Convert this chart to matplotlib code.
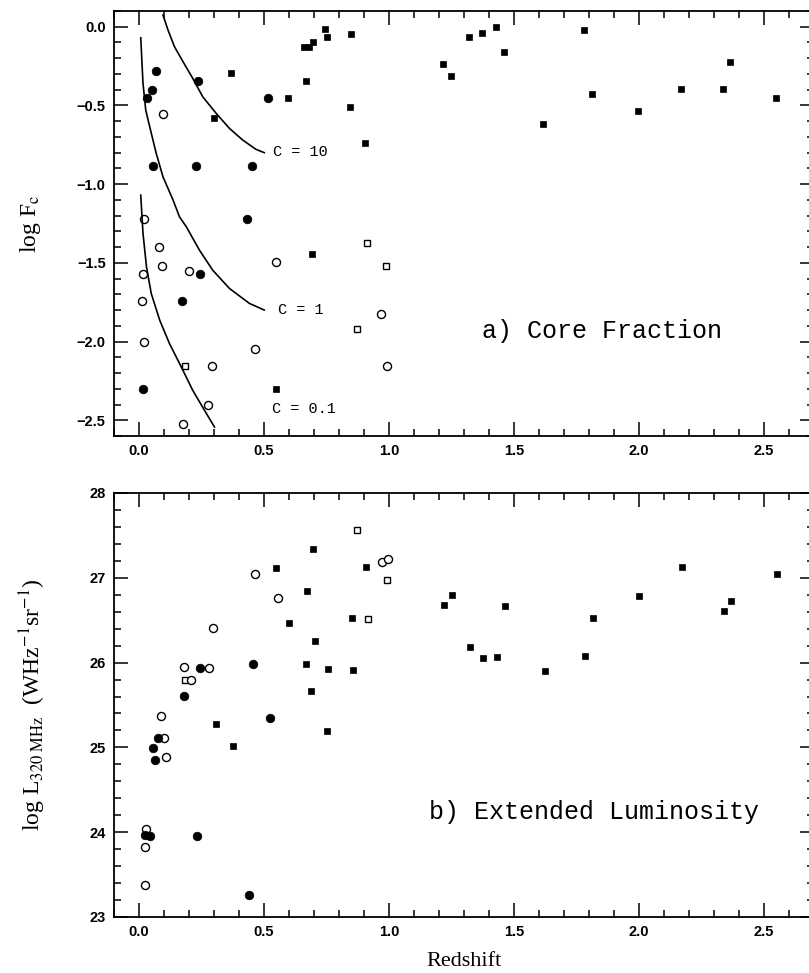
import matplotlib
matplotlib.use("Agg")
import matplotlib.pyplot as plt
from matplotlib.ticker import MultipleLocator

# ---- panel a: core fraction (log F_c vs redshift) ----
fc_filled_circ_z = [0.030, 0.050, 0.067, 0.235, 0.517, 0.056, 0.226, 0.451, 0.431, 0.242, 0.173, 0.016]
fc_filled_circ_y = [-0.455, -0.40, -0.28, -0.345, -0.455, -0.884, -0.884, -0.884, -1.222, -1.568, -1.744, -2.303]

fc_open_circ_z = [0.097, 0.020, 0.081, 0.090, 0.015, 0.200, 0.010, 0.549, 0.969, 0.019, 0.293, 0.462, 0.993, 0.277, 0.177]
fc_open_circ_y = [-0.553, -1.222, -1.40, -1.523, -1.57, -1.553, -1.744, -1.494, -1.822, -2.004, -2.155, -2.047, -2.155, -2.40, -2.526]

fc_open_sq_z = [0.910, 0.987, 0.871, 0.185]
fc_open_sq_y = [-1.375, -1.519, -1.922, -2.155]

fc_filled_sq_z = [0.366, 0.300, 0.594, 0.661, 0.678, 0.697, 0.743, 0.750, 0.668, 0.847, 0.844, 0.903, 0.692, 0.547,
                  1.217, 1.249, 1.318, 1.371, 1.427, 1.459, 1.617, 1.778, 1.810, 1.996, 2.167, 2.337, 2.365, 2.549]
fc_filled_sq_y = [-0.296, -0.582, -0.455, -0.127, -0.127, -0.095, -0.015, -0.064, -0.343, -0.046, -0.509, -0.741, -1.443, -2.303,
                  -0.239, -0.315, -0.065, -0.038, 0.0, -0.163, -0.619, -0.019, -0.428, -0.534, -0.394, -0.394, -0.226, -0.453]

# constant-C curves
c10_z = [0.096, 0.116, 0.142, 0.176, 0.215, 0.255, 0.309, 0.362, 0.415, 0.468, 0.501]
c10_y = [0.074, -0.021, -0.127, -0.222, -0.328, -0.445, -0.551, -0.646, -0.720, -0.779, -0.800]
c1_z = [0.007, 0.016, 0.027, 0.043, 0.069, 0.096, 0.136, 0.162, 0.189, 0.242, 0.295, 0.362, 0.442, 0.501]
c1_y = [-0.07, -0.36, -0.53, -0.636, -0.805, -0.954, -1.10, -1.208, -1.27, -1.42, -1.547, -1.663, -1.758, -1.80]
c01_z = [0.007, 0.012, 0.016, 0.030, 0.049, 0.083, 0.122, 0.169, 0.215, 0.262, 0.302]
c01_y = [-1.07, -1.208, -1.313, -1.526, -1.695, -1.865, -2.013, -2.161, -2.31, -2.437, -2.543]

# ---- panel b: extended luminosity ----
lx_open_circ_z = [0.464, 0.555, 0.297, 0.180, 0.281, 0.207, 0.088, 0.099, 0.107, 0.971, 0.996, 0.027, 0.025, 0.025]
lx_open_circ_y = [27.04, 26.76, 26.41, 25.95, 25.94, 25.80, 25.37, 25.11, 24.89, 27.19, 27.22, 24.04, 23.83, 23.38]

lx_filled_circ_z = [0.242, 0.180, 0.455, 0.525, 0.075, 0.056, 0.064, 0.023, 0.042, 0.232, 0.438]
lx_filled_circ_y = [25.94, 25.61, 25.98, 25.35, 25.11, 24.99, 24.85, 23.97, 23.95, 23.95, 23.26]

lx_open_sq_z = [0.872, 0.991, 0.914, 0.185]
lx_open_sq_y = [27.56, 26.97, 26.52, 25.80]

lx_filled_sq_z = [0.694, 0.548, 0.908, 0.673, 0.598, 0.850, 0.705, 0.669, 0.755, 0.855, 0.686, 0.309, 0.375, 0.751,
                  1.222, 1.253, 1.325, 1.378, 1.432, 1.463, 1.622, 1.783, 1.815, 2.001, 2.173, 2.341, 2.369, 2.553]
lx_filled_sq_y = [27.34, 27.11, 27.13, 26.85, 26.47, 26.53, 26.26, 25.98, 25.92, 25.91, 25.66, 25.28, 25.02, 25.19,
                  26.68, 26.80, 26.18, 26.06, 26.07, 26.67, 25.90, 26.08, 26.53, 26.79, 27.13, 26.61, 26.73, 27.04]

plt.rcParams["mathtext.fontset"] = "stix"
SERIF = "Liberation Serif"
MONO = "Liberation Mono"

W, H = 809, 973
fig = plt.figure(figsize=(W / 100, H / 100), dpi=100)
ax_a = fig.add_axes([114 / W, 1 - 436 / H, 700 / W, 425 / H])
ax_b = fig.add_axes([114 / W, 1 - 917 / H, 700 / W, 424 / H])


def draw_points(ax, fz, fy, oz, oy, sqz, sqy, osz, osy):
    ax.plot(sqz, sqy, "s", ms=4.4, mfc="black", mec="black", mew=0.5, ls="none")
    ax.plot(osz, osy, "s", ms=3.8, mfc="white", mec="black", mew=1.0, ls="none")
    ax.plot(oz, oy, "o", ms=5.8, mfc="white", mec="black", mew=1.0, ls="none")
    ax.plot(fz, fy, "o", ms=6.2, mfc="black", mec="black", mew=0.5, ls="none")


def style_axes(ax, ymajor, yminor, xfmt, yfmt):
    ax.set_xlim(-0.1, 2.7)
    ax.xaxis.set_major_locator(MultipleLocator(0.5))
    ax.xaxis.set_minor_locator(MultipleLocator(0.1))
    ax.yaxis.set_major_locator(MultipleLocator(ymajor))
    ax.yaxis.set_minor_locator(MultipleLocator(yminor))
    ax.xaxis.set_major_formatter(plt.FuncFormatter(xfmt))
    ax.yaxis.set_major_formatter(plt.FuncFormatter(yfmt))
    ax.tick_params(which="both", direction="in", top=True, right=True, width=1.1)
    ax.tick_params(which="major", length=10, pad=6)
    ax.tick_params(which="minor", length=5)
    for sp in ax.spines.values():
        sp.set_linewidth(1.3)
    for lab in ax.get_xticklabels() + ax.get_yticklabels():
        lab.set_fontfamily("Liberation Sans")
        lab.set_fontweight("bold")
        lab.set_fontsize(10.5)


# panel a
draw_points(ax_a, fc_filled_circ_z, fc_filled_circ_y, fc_open_circ_z, fc_open_circ_y,
            fc_filled_sq_z, fc_filled_sq_y, fc_open_sq_z, fc_open_sq_y)
for cz, cy in [(c10_z, c10_y), (c1_z, c1_y), (c01_z, c01_y)]:
    ax_a.plot(cz, cy, color="black", lw=1.2)
ax_a.set_ylim(-2.6, 0.1)
style_axes(ax_a, 0.5, 0.1,
           lambda v, p: f"{v:.1f}",
           lambda v, p: f"{v:.1f}".replace("-", "\u2212"))
ax_a.text(0.537, -0.797, "C = 10", family=MONO, fontsize=11, va="center")
ax_a.text(0.557, -1.80, "C = 1", family=MONO, fontsize=11, va="center")
ax_a.text(0.533, -2.43, "C = 0.1", family=MONO, fontsize=11, va="center")
ax_a.text(1.371, -1.93, "a) Core Fraction", family=MONO, fontsize=18, va="center")
ax_a.set_ylabel(r"log F$_{\rm c}$", family=SERIF, fontsize=17, labelpad=24)

# panel b
draw_points(ax_b, lx_filled_circ_z, lx_filled_circ_y, lx_open_circ_z, lx_open_circ_y,
            lx_filled_sq_z, lx_filled_sq_y, lx_open_sq_z, lx_open_sq_y)
ax_b.set_ylim(23, 28)
style_axes(ax_b, 1.0, 0.2,
           lambda v, p: f"{v:.1f}",
           lambda v, p: f"{v:.0f}")
ax_b.text(1.16, 24.24, "b) Extended Luminosity", family=MONO, fontsize=18, va="center")
ax_b.set_ylabel(r"log L$_{\rm 320\ MHz}$  (WHz$^{-1}$sr$^{-1}$)", family=SERIF, fontsize=17, labelpad=30)
ax_b.set_xlabel("Redshift", family=SERIF, fontsize=16, labelpad=9)

fig.savefig("out.png", dpi=100)
